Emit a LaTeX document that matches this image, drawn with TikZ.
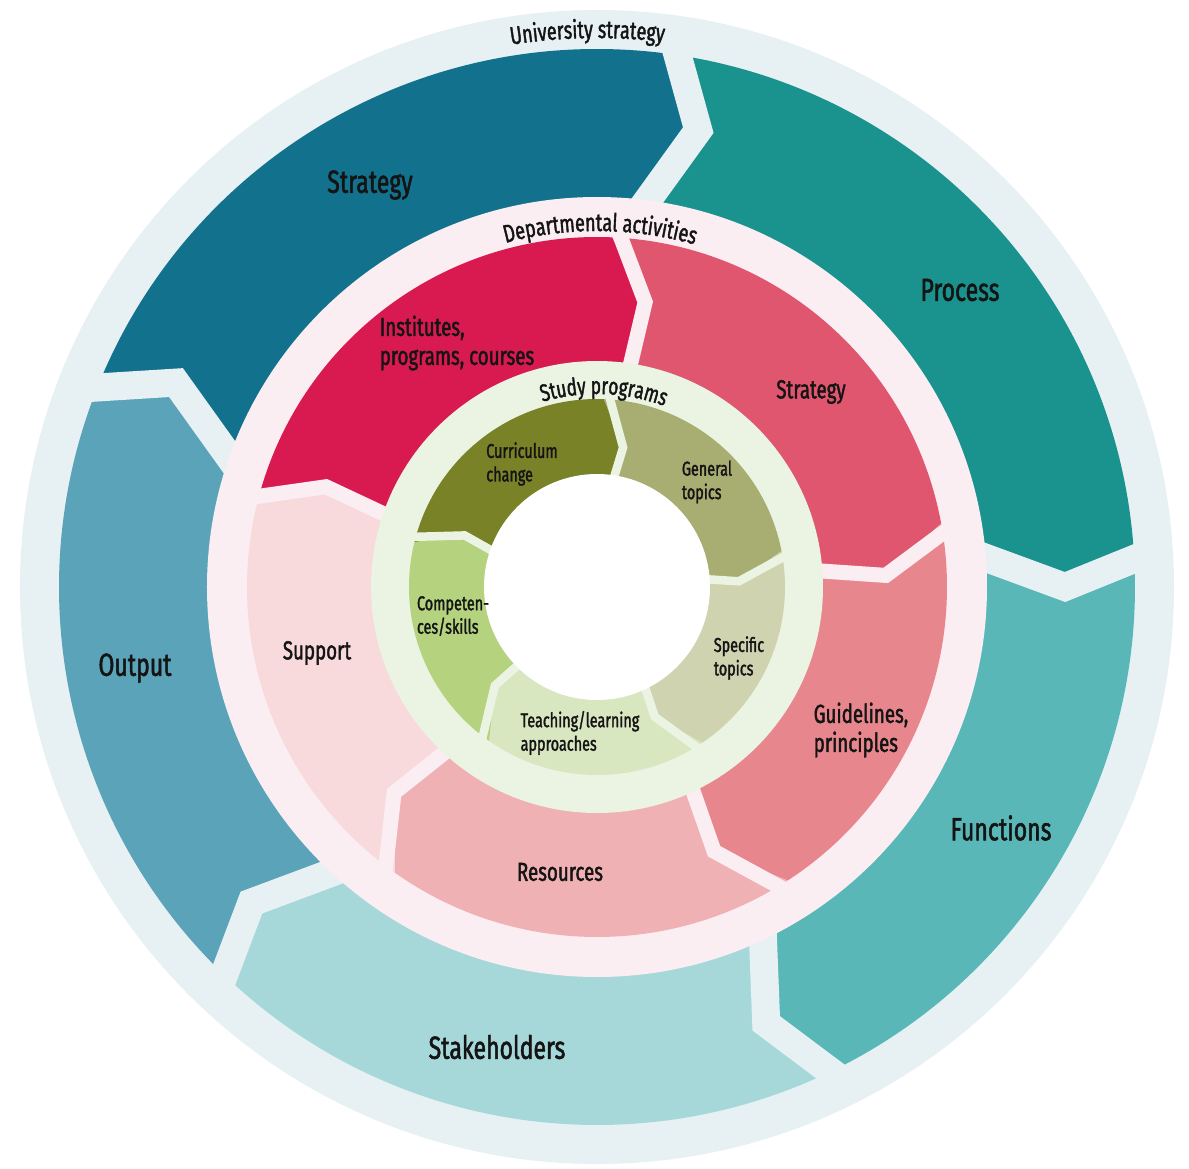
\documentclass[tikz,border=0pt]{standalone}
\usepackage{fontspec}
\setmainfont{Fira Sans}[FakeStretch=0.72, FakeBold=1.6]
\usetikzlibrary{decorations.text}

\definecolor{bgO}{HTML}{E7F1F4}
\definecolor{cStrat}{HTML}{12718D}
\definecolor{cProc}{HTML}{1A928E}
\definecolor{cFunc}{HTML}{5AB7B8}
\definecolor{cStake}{HTML}{A7D8D9}
\definecolor{cOut}{HTML}{5AA3B8}
\definecolor{bgP}{HTML}{FBEEF2}
\definecolor{cInst}{HTML}{D81A50}
\definecolor{cPStrat}{HTML}{E0566F}
\definecolor{cGuid}{HTML}{E8868E}
\definecolor{cRes}{HTML}{F0B1B4}
\definecolor{cSup}{HTML}{F8D9DC}
\definecolor{bgG}{HTML}{EBF3E3}
\definecolor{cCurr}{HTML}{7A8228}
\definecolor{cGen}{HTML}{A8AD72}
\definecolor{cSpec}{HTML}{D0D3B0}
\definecolor{cTeach}{HTML}{D9E7C1}
\definecolor{cComp}{HTML}{B5D27F}
\definecolor{ink}{HTML}{141414}

% color, outer/mid/inner angle of start boundary, outer/mid/inner angle of end boundary
\newcommand\chevseg[7]{%
  \fill[#1] ({#2}:\rout) arc[start angle={#2}, end angle={#5}, radius=\rout]
    -- ({#6}:\rmid) -- ({#7}:\rin) arc[start angle={#7}, end angle={#4}, radius=\rin]
    -- ({#3}:\rmid) -- cycle;}
\newcommand\chevgap[4]{%
  \draw[#1] ({#2}:{\rout+20}) -- ({#3}:\rmid) -- ({#4}:{\rin-20});}

\tikzset{
  olbl/.style={font=\fontsize{32}{36}\selectfont, text=ink, inner sep=0pt},
  plbl/.style={font=\fontsize{26}{29}\selectfont, text=ink, align=left, inner sep=0pt},
  glbl/.style={font=\fontsize{20}{23.5}\selectfont, text=ink, align=left, inner sep=0pt},
}

\begin{document}
\begin{tikzpicture}[x=1pt, y=1pt, line join=miter]
\useasboundingbox (-597,-581) rectangle (592,587);
\fill[white] (-597,-581) rectangle (592,587);

% ---------- outer ring: University strategy ----------
\fill[bgO] (0,0) circle[radius=577];
\def\rout{538}\def\rmid{468}\def\rin{386}
\chevseg{cStrat}{159.2}{154.1}{163.2}{82.3}{77.5}{84.6}
\chevseg{cProc}{82.3}{77.5}{84.6}{3.7}{0}{6}
\chevseg{cFunc}{3.7}{0}{6}{-63.2}{-68.8}{-63.2}
\chevseg{cStake}{-63.2}{-68.8}{-63.2}{-133}{-137.6}{-131}
\chevseg{cOut}{227}{222.4}{229}{159.2}{154.1}{163.2}
\chevgap{bgO, line width=28}{82.3}{77.5}{84.6}
\chevgap{bgO, line width=28}{3.7}{0}{6}
\chevgap{bgO, line width=28}{-63.2}{-68.8}{-63.2}
\chevgap{bgO, line width=28}{-133}{-137.6}{-131}
\chevgap{bgO, line width=28}{159.2}{154.1}{163.2}

% ---------- middle ring: Departmental activities ----------
\fill[bgP] (0,0) circle[radius=390];
\def\rout{350}\def\rmid{289}\def\rin{222}
\chevseg{cInst}{166.3}{159.7}{161.8}{87.5}{80.4}{82}
\chevseg{cPStrat}{87.5}{80.4}{82}{10.5}{2.3}{5}
\chevseg{cGuid}{10.5}{2.3}{5}{-57}{-66.1}{-64.1}
\chevseg{cRes}{-57}{-66.1}{-64.1}{-125.3}{-134.6}{-131.6}
\chevseg{cSup}{234.7}{225.4}{228.4}{166.3}{159.7}{161.8}
\chevgap{bgP, line width=15}{87.5}{80.4}{82}
\chevgap{bgP, line width=15}{10.5}{2.3}{5}
\chevgap{bgP, line width=15}{-57}{-66.1}{-64.1}
\chevgap{bgP, line width=15}{-125.3}{-134.6}{-131.6}
\chevgap{bgP, line width=15}{166.3}{159.7}{161.8}

% ---------- inner ring: Study programs ----------
\fill[bgG] (0,0) circle[radius=226];
\def\rout{188}\def\rmid{142}\def\rin{108}
\chevseg{cCurr}{166.2}{158.7}{163.7}{87.9}{79.4}{83.3}
\chevseg{cGen}{87.9}{79.4}{83.3}{11}{2.3}{6}
\chevseg{cSpec}{11}{2.3}{6}{-56}{-66}{-62.5}
\chevseg{cTeach}{-56}{-66}{-62.5}{-125}{-136}{-134.6}
\chevseg{cComp}{235}{224}{225.4}{166.2}{158.7}{163.7}
\chevgap{bgG, line width=8.5}{87.9}{79.4}{83.3}
\chevgap{bgG, line width=8.5}{11}{2.3}{6}
\chevgap{bgG, line width=8.5}{-56}{-66}{-62.5}
\chevgap{bgG, line width=8.5}{-125}{-136}{-134.6}
\chevgap{bgG, line width=8.5}{166.2}{158.7}{163.7}
\fill[white] (0,0) circle[radius=113];

% ---------- curved ring titles ----------
\path[decorate, decoration={text along path, text align=center, text color=ink,
  text={|\fontsize{25}{25}\selectfont|University strategy}}]
  (130:549) arc[start angle=130, end angle=52, radius=549];
\path[decorate, decoration={text along path, text align=center, text color=ink,
  text={|\fontsize{25}{25}\selectfont|Departmental activities}}]
  (130:356) arc[start angle=130, end angle=49, radius=356];
\path[decorate, decoration={text along path, text align=center, text color=ink,
  text={|\fontsize{24}{24}\selectfont|Study programs}}]
  (140:193) arc[start angle=140, end angle=36, radius=193];

% ---------- labels ----------
\node[olbl] (lStrat) at (-227,402) {Strategy};
\node[olbl] (lProc) at (363,297) {Process};
\node[olbl] (lFunc) at (404,-241) {Functions};
\node[olbl] (lStake) at (-100,-460) {Stakeholders};
\node[olbl] (lOut) at (-462,-81) {Output};

\node[plbl] (lInst) at (-140,244) {Institutes,\\programs, courses};
\node[plbl] (lPStrat) at (214,195) {Strategy};
\node[plbl] (lGuid) at (264,-143) {Guidelines,\\principles};
\node[plbl] (lRes) at (-37,-285) {Resources};
\node[plbl] (lSup) at (-280,-66) {Support};

\node[glbl] (lCurr) at (-75,123) {Curriculum\\change};
\node[glbl] (lGen) at (110,105) {General\\topics};
\node[glbl] (lSpec) at (142,-71) {Specific\\topics};
\node[glbl] (lTeach) at (-17,-146) {Teaching/learning\\approaches};
\node[glbl] (lComp) at (-144,-29) {Competen-\\ces/skills};
\end{tikzpicture}
\end{document}
